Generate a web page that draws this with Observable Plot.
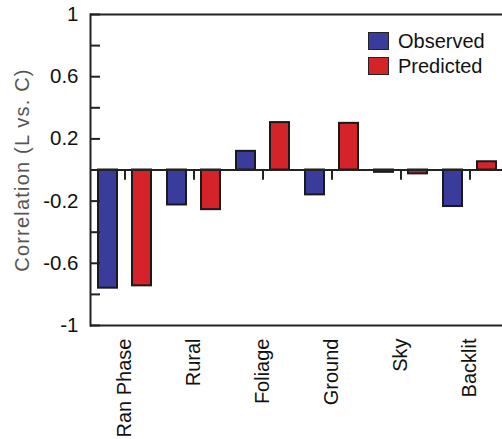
<!DOCTYPE html>
<html><head><meta charset="utf-8">
<script src="https://cdn.jsdelivr.net/npm/d3@7"></script>
<script src="https://cdn.jsdelivr.net/npm/@observablehq/plot@0.6"></script>
<style>
html,body{margin:0;padding:0;background:#fff;overflow:hidden}
#wrap{position:relative;width:502px;height:439px;overflow:hidden}
.legend{position:absolute;left:368px;top:29px;font-family:"Liberation Sans",Arial,sans-serif;font-size:20px;color:#111;line-height:1}
.legend .row{display:flex;align-items:center;height:24.5px}
.legend .sw{width:21px;height:18px;border:1.5px solid #222;box-sizing:border-box;margin-right:9px}
g[aria-label="y-axis label"] text{letter-spacing:1.2px}
</style></head>
<body><div id="wrap"></div>
<script>
const categories = ["Ran Phase", "Rural", "Foliage", "Ground", "Sky", "Backlit"];
const series = ["Observed", "Predicted"];
const observed = [-0.76, -0.225, 0.12, -0.16, -0.015, -0.235];
const predicted = [-0.745, -0.255, 0.305, 0.30, -0.025, 0.053];
const colors = ["#3a3c9c", "#d5232a"];
const yLabelTicks = [1, 0.6, 0.2, -0.2, -0.6, -1];
const yAllTicks = [1, 0.8, 0.6, 0.4, 0.2, 0, -0.2, -0.4, -0.6, -0.8, -1];
const yLabel = "Correlation (L vs. C)";

const data = categories.flatMap((c, i) => [
  {category: c, series: series[0], value: observed[i]},
  {category: c, series: series[1], value: predicted[i]}
]);

const tickShape = {draw(ctx, l) { ctx.moveTo(0, 0); ctx.lineTo(0, -l); }};

const chart = Plot.plot({
  width: 502, height: 439,
  marginLeft: 89, marginRight: -2, marginTop: 14, marginBottom: 114,
  style: {fontFamily: '"Liberation Sans", Arial, sans-serif', background: "white"},
  fx: {domain: categories, padding: 0, label: null},
  x: {domain: series, paddingInner: 0.45, paddingOuter: 0.225, axis: null},
  y: {domain: [-1, 1]},
  color: {domain: series, range: colors},
  marks: [
    Plot.barY(data, {fx: "category", x: "series", y: "value", fill: "series", stroke: "#1a1a1a", strokeWidth: 2}),
    Plot.ruleY([0, 1, -1], {stroke: "#222", strokeWidth: 2}),
    Plot.frame({anchor: "left", facetAnchor: "left", stroke: "#222", strokeWidth: 2}),
    Plot.vector(categories, {fx: d => d, y: () => 0, length: 9, rotate: 180, anchor: "start", shape: tickShape, stroke: "#222", strokeWidth: 2}),
    Plot.axisY({ticks: yAllTicks, tickSize: -10, tickFormat: () => "", stroke: "#222", strokeWidth: 2, label: null}),
    Plot.axisY({ticks: yLabelTicks, tickSize: 0, tickPadding: 12, tickFormat: d => String(d), fontSize: 20.5, fill: "#111", label: null}),
    Plot.axisY({ticks: [], label: yLabel, labelAnchor: "center", labelArrow: "none", labelOffset: 76, fontSize: 20, fill: "#555"}),
    Plot.axisFx({anchor: "bottom", tickRotate: -90, tickSize: 0, tickPadding: 13, fontSize: 20, fill: "#111", label: null})
  ]
});

const wrap = document.getElementById("wrap");
wrap.appendChild(chart);
const legend = document.createElement("div");
legend.className = "legend";
series.forEach((s, i) => {
  const row = document.createElement("div");
  row.className = "row";
  const sw = document.createElement("span");
  sw.className = "sw";
  sw.style.background = colors[i];
  const t = document.createElement("span");
  t.textContent = s;
  row.appendChild(sw); row.appendChild(t);
  legend.appendChild(row);
});
wrap.appendChild(legend);
</script>
</body></html>
